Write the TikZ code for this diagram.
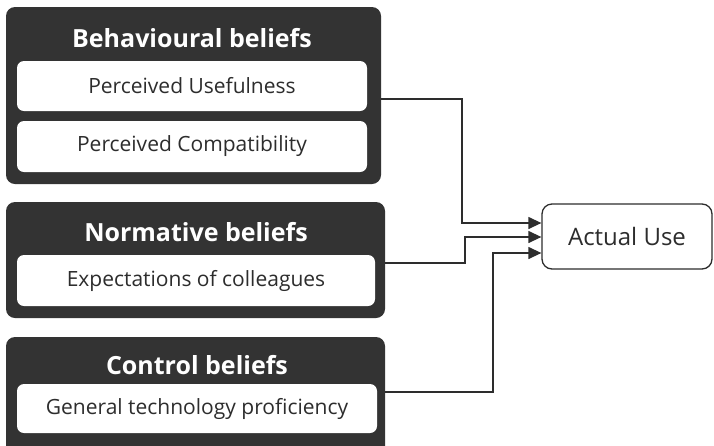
\documentclass[tikz,border=0pt]{standalone}
\usepackage{fontspec}
\setmainfont{Open Sans}
\usetikzlibrary{arrows.meta}
\definecolor{dark}{RGB}{51,51,51}
\definecolor{ink}{RGB}{45,45,45}
\tikzset{
  x=1pt, y=-1pt,
  group/.style={fill=dark, draw=none, rounded corners=9pt, inner sep=0pt},
  item/.style={fill=white, draw=none, rounded corners=7pt, inner sep=0pt, text=ink, font=\fontsize{21}{24}\selectfont},
  title/.style={text=white, font=\bfseries\fontsize{25}{29}\selectfont, inner sep=0pt},
  target/.style={draw=ink, line width=1.3pt, fill=white, rounded corners=10pt, inner sep=0pt, text=ink, font=\fontsize{24}{28}\selectfont},
  link/.style={draw=ink, line width=1.3pt, -{Triangle[length=13pt,width=12pt]}},
}
\begin{document}
\begin{tikzpicture}
\useasboundingbox (0,0) rectangle (714,445);
\clip (0,0) rectangle (714,445);
\fill[white] (0,0) rectangle (714,445);
% groups
\node[group, minimum width=375pt, minimum height=177pt] (beh) at (193.5,95.5) {};
\node[group, minimum width=379pt, minimum height=116pt] (norm) at (195.5,260) {};
\node[group, minimum width=379pt, minimum height=123pt] (ctrl) at (195.5,398.5) {};
% titles
\node[title] (behT) at (192,38) {Behavioural beliefs};
\node[title] (normT) at (196,232) {Normative beliefs};
\node[title] (ctrlT) at (197,365) {Control beliefs};
% items
\node[item, minimum width=350pt, minimum height=50pt] (pu) at (192,86) {Perceived Usefulness};
\node[item, minimum width=350pt, minimum height=51pt] (pc) at (192,146.5) {Perceived Compatibility};
\node[item, minimum width=358pt, minimum height=51pt] (exp) at (196,280.5) {Expectations of colleagues};
\node[item, minimum width=360pt, minimum height=49pt] (gtp) at (197,408.5) {General technology proficiency};
% target
\node[target, minimum width=170pt, minimum height=65pt] (use) at (627,236.5) {Actual Use};
% connectors
\draw[link] (beh.east |- 0,99) -| (462,223) -- (use.west |- 0,223);
\draw[link] (norm.east |- 0,263) -| (465,237) -- (use.west |- 0,237);
\draw[link] (ctrl.east |- 0,392) -| (493,253) -- (use.west |- 0,253);
\end{tikzpicture}
\end{document}
